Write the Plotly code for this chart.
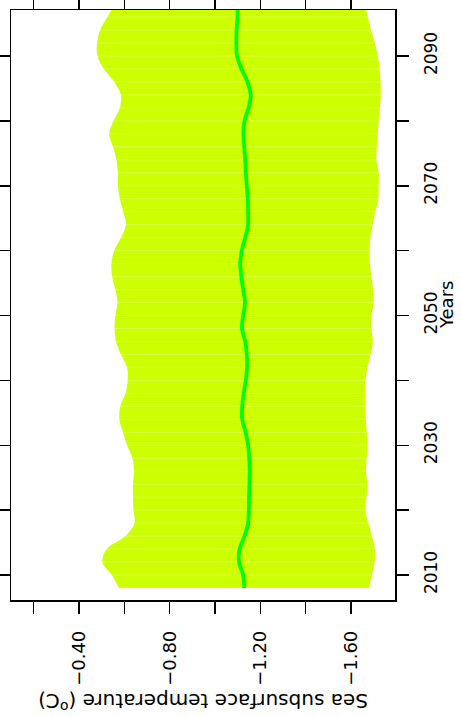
import plotly.graph_objects as go

years = list(range(2008, 2101, 2))
upper = [-0.576, -0.545, -0.503, -0.522, -0.605, -0.645, -0.640, -0.638, -0.638, -0.642,
         -0.636, -0.612, -0.594, -0.578, -0.582, -0.605, -0.615, -0.612, -0.585, -0.563,
         -0.557, -0.560, -0.570, -0.560, -0.546, -0.543, -0.555, -0.585, -0.607, -0.595,
         -0.580, -0.572, -0.571, -0.565, -0.550, -0.533, -0.552, -0.580, -0.585, -0.556,
         -0.510, -0.481, -0.480, -0.493, -0.525, -0.555, -0.570]
mean = [-1.129, -1.124, -1.106, -1.108, -1.130, -1.146, -1.149, -1.150, -1.152, -1.153,
        -1.151, -1.146, -1.135, -1.120, -1.120, -1.126, -1.136, -1.141, -1.140, -1.133,
        -1.119, -1.124, -1.132, -1.124, -1.116, -1.111, -1.118, -1.133, -1.146, -1.146,
        -1.144, -1.140, -1.136, -1.133, -1.129, -1.125, -1.130, -1.148, -1.157, -1.143,
        -1.117, -1.097, -1.094, -1.095, -1.099, -1.100, -1.100]
lower = [-1.679, -1.692, -1.704, -1.705, -1.692, -1.676, -1.663, -1.668, -1.672, -1.666,
         -1.669, -1.672, -1.669, -1.665, -1.662, -1.662, -1.663, -1.672, -1.686, -1.696,
         -1.690, -1.690, -1.700, -1.697, -1.690, -1.683, -1.682, -1.685, -1.695, -1.707,
         -1.720, -1.722, -1.722, -1.712, -1.714, -1.718, -1.722, -1.727, -1.731, -1.730,
         -1.726, -1.718, -1.705, -1.688, -1.674, -1.660, -1.650]

temp_ticks = [-0.2, -0.4, -0.6, -0.8, -1.0, -1.2, -1.4, -1.6]
temp_labels = ["", "\u22120.40", "", "\u22120.80", "", "\u22121.20", "", "\u22121.60"]
year_ticks = [2010, 2020, 2030, 2040, 2050, 2060, 2070, 2080, 2090]
year_labels = ["2010", "", "2030", "", "2050", "", "2070", "", "2090"]

BAND = "#CCFF00"
LINE = "#00FF00"
FONT = "DejaVu Sans"

fig = go.Figure()
fig.add_trace(go.Scatter(x=upper, y=years, mode="lines", line=dict(width=0, shape="spline"),
                         showlegend=False, hoverinfo="skip"))
fig.add_trace(go.Scatter(x=lower, y=years, mode="lines", line=dict(width=0, shape="spline"),
                         fill="tonextx", fillcolor=BAND, showlegend=False, hoverinfo="skip"))
# faint seams between band segments
sx, sy = [], []
for yr, u, l in zip(years, upper, lower):
    sx += [u, l, None]
    sy += [yr, yr, None]
fig.add_trace(go.Scatter(x=sx, y=sy, mode="lines", line=dict(width=0.8, color="rgba(255,255,255,0.35)"),
                         showlegend=False, hoverinfo="skip"))
fig.add_trace(go.Scatter(x=mean, y=years, mode="lines", line=dict(width=3.8, color=LINE, shape="spline"),
                         showlegend=False))

fig.update_layout(
    width=461, height=716,
    margin=dict(l=11, r=66, t=10, b=116),
    paper_bgcolor="white", plot_bgcolor="white",
    hovermode=False,
    font=dict(family=FONT, size=18, color="black"),
    xaxis=dict(range=[-0.100, -1.794], tickvals=temp_ticks, ticktext=temp_labels,
               tickangle=-90, ticks="outside", ticklen=12, tickwidth=1.5, tickcolor="black",
               showline=True, linecolor="black", linewidth=1.5, mirror="ticks",
               showgrid=False, zeroline=False, ticklabelstandoff=10, automargin=False,
               tickfont=dict(family=FONT, size=18)),
    yaxis=dict(range=[2006.15, 2097.09], side="right", tickvals=year_ticks, ticktext=year_labels,
               tickangle=-90, ticks="outside", ticklen=12, tickwidth=1.5, tickcolor="black",
               showline=True, linecolor="black", linewidth=1.5, mirror="ticks",
               showgrid=False, zeroline=False, ticklabelstandoff=8, automargin=False,
               tickfont=dict(family=FONT, size=17)),
    annotations=[
        dict(text="Sea subsurface temperature (<sup>o</sup>C)", xref="paper", yref="paper",
             x=0.5, y=-0.174, xanchor="center", yanchor="middle", textangle=180,
             showarrow=False, font=dict(family=FONT, size=20)),
        dict(text="Years", xref="paper", yref="paper", x=1.133, y=0.5,
             xanchor="center", yanchor="middle", textangle=-90, showarrow=False,
             font=dict(family=FONT, size=18)),
    ],
)
fig.write_html("out.html", config={"displayModeBar": False, "staticPlot": True},
               post_script="document.body.style.margin='0px';document.body.style.overflow='hidden';")
